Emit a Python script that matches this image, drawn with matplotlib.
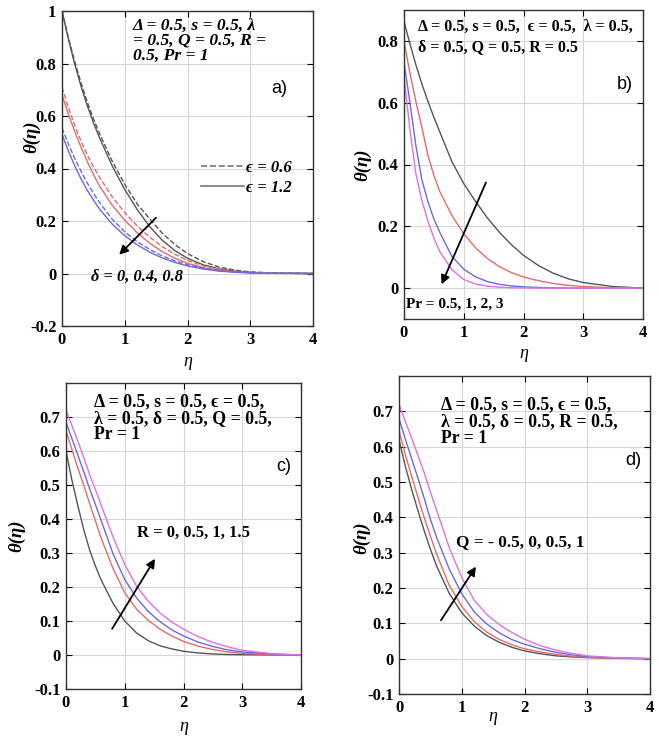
import matplotlib
matplotlib.use('Agg')
import matplotlib.pyplot as plt
from matplotlib.lines import Line2D

plt.rcParams['font.family'] = ['Liberation Serif', 'DejaVu Serif']

# shared eta grid
eta = [0, 0.1, 0.2, 0.3, 0.4, 0.5, 0.6, 0.8, 1.0, 1.2, 1.4, 1.6, 1.8, 2.0,
       2.25, 2.5, 2.75, 3.0, 3.5, 4.0]

# a) delta = 0, 0.4, 0.8 ; dashed eps=0.6, solid eps=1.2
a_k_dash = [1.0, 0.9, 0.81, 0.728, 0.655, 0.59, 0.532, 0.428, 0.34, 0.264, 0.207,
            0.153, 0.11, 0.076, 0.045, 0.025, 0.013, 0.006, 0.001, 0.0]
a_k_sol = [1.0, 0.895, 0.8, 0.716, 0.641, 0.575, 0.516, 0.41, 0.32, 0.243, 0.178,
           0.126, 0.087, 0.058, 0.033, 0.018, 0.009, 0.004, 0.001, 0.0]
a_r_dash = [0.71, 0.634, 0.566, 0.506, 0.453, 0.407, 0.366, 0.292, 0.232, 0.181,
            0.138, 0.102, 0.073, 0.05, 0.029, 0.016, 0.008, 0.004, 0.001, 0.0]
a_r_sol = [0.68, 0.608, 0.543, 0.483, 0.428, 0.378, 0.333, 0.26, 0.203, 0.155,
           0.115, 0.083, 0.058, 0.039, 0.022, 0.012, 0.006, 0.003, 0.001, 0.0]
a_b_dash = [0.555, 0.494, 0.44, 0.391, 0.346, 0.306, 0.27, 0.207, 0.159, 0.121,
            0.091, 0.067, 0.048, 0.034, 0.02, 0.011, 0.006, 0.003, 0.001, 0.0]
a_b_sol = [0.53, 0.468, 0.412, 0.362, 0.318, 0.28, 0.245, 0.188, 0.144, 0.109,
           0.081, 0.059, 0.042, 0.029, 0.017, 0.009, 0.005, 0.002, 0.0005, 0.0]

# b) Pr = 0.5, 1, 2, 3
b_pr05 = [0.863, 0.79, 0.722, 0.66, 0.605, 0.553, 0.505, 0.41, 0.338, 0.28, 0.226,
          0.18, 0.14, 0.106, 0.073, 0.048, 0.03, 0.018, 0.005, 0.0]
b_pr1 = [0.80, 0.695, 0.603, 0.52, 0.43, 0.365, 0.312, 0.236, 0.176, 0.13, 0.095,
         0.069, 0.05, 0.036, 0.024, 0.015, 0.009, 0.005, 0.001, 0.0]
b_pr2 = [0.73, 0.6, 0.46, 0.35, 0.28, 0.224, 0.18, 0.103, 0.061, 0.036, 0.021,
         0.012, 0.007, 0.004, 0.002, 0.001, 0.0, 0.0, 0.0, 0.0]
b_pr3 = [0.685, 0.512, 0.369, 0.283, 0.217, 0.162, 0.118, 0.06, 0.028, 0.013,
         0.006, 0.003, 0.001, 0.0005, 0.0, 0.0, 0.0, 0.0, 0.0, 0.0]

# c) R = 0, 0.5, 1, 1.5
c_r0 = [0.60, 0.515, 0.44, 0.37, 0.31, 0.262, 0.22, 0.152, 0.1, 0.065, 0.042,
        0.027, 0.018, 0.011, 0.006, 0.003, 0.0015, 0.0008, 0.0002, 0.0]
c_r05 = [0.66, 0.605, 0.551, 0.5, 0.447, 0.395, 0.343, 0.255, 0.183, 0.135, 0.102,
         0.076, 0.056, 0.04, 0.026, 0.016, 0.009, 0.005, 0.001, 0.0]
c_r1 = [0.685, 0.637, 0.589, 0.54, 0.49, 0.443, 0.395, 0.298, 0.222, 0.168, 0.128,
        0.098, 0.074, 0.056, 0.038, 0.025, 0.015, 0.009, 0.003, 0.0]
c_r15 = [0.72, 0.675, 0.63, 0.582, 0.532, 0.487, 0.44, 0.348, 0.266, 0.203, 0.158,
         0.124, 0.097, 0.076, 0.054, 0.037, 0.024, 0.014, 0.004, 0.0]

# d) Q = -0.5, 0, 0.5, 1
d_qm05 = [0.62, 0.545, 0.48, 0.42, 0.363, 0.31, 0.262, 0.185, 0.13, 0.092, 0.065,
          0.046, 0.032, 0.022, 0.014, 0.008, 0.005, 0.003, 0.001, 0.0]
d_q0 = [0.645, 0.578, 0.517, 0.458, 0.40, 0.347, 0.296, 0.208, 0.148, 0.105, 0.075,
        0.054, 0.039, 0.028, 0.019, 0.012, 0.007, 0.004, 0.001, 0.0]
d_q05 = [0.68, 0.622, 0.567, 0.512, 0.455, 0.395, 0.343, 0.254, 0.184, 0.132, 0.098,
         0.073, 0.054, 0.041, 0.028, 0.018, 0.011, 0.006, 0.002, 0.0]
d_q1 = [0.72, 0.672, 0.625, 0.576, 0.527, 0.472, 0.42, 0.315, 0.23, 0.165, 0.125,
        0.096, 0.074, 0.055, 0.037, 0.024, 0.015, 0.008, 0.002, 0.0]

col_k = '#555555'
col_r = '#e86a6a'
col_b = '#6a6ae0'
col_m = '#e070e8'

W, H = 661, 742
fig = plt.figure(figsize=(W / 100, H / 100), dpi=100)


def make_ax(l, r, t, b):
    ax = fig.add_axes([l / W, 1 - b / H, (r - l) / W, (b - t) / H])
    ax.grid(True, color='#d6d6d6', lw=0.8)
    ax.set_axisbelow(True)
    ax.tick_params(direction='in', top=True, right=True, length=4, labelsize=12, pad=4)
    for s in ax.spines.values():
        s.set_color('#333333')
        s.set_linewidth(1.0)
    ax.set_xlim(0, 4)
    ax.set_xticks([0, 1, 2, 3, 4])
    return ax


def finish(ax, yt, xl, yl):
    ax.set_yticks(yt)
    ax.set_yticklabels([f'{v:g}' for v in yt], fontweight='bold')
    ax.set_xticklabels(['0', '1', '2', '3', '4'], fontweight='bold')
    ax.set_xlabel('η', fontsize=13, style='italic')
    ax.set_ylabel('θ(η)', fontsize=13.5, style='italic', fontweight='bold')
    ax.xaxis.set_label_coords(*xl)
    ax.yaxis.set_label_coords(*yl)


arrow = dict(arrowstyle='-|>', color='black', lw=1.3, mutation_scale=13)

# ---- a)
ax = make_ax(62, 313, 11, 326)
for yd, ys, c in [(a_k_dash, a_k_sol, col_k), (a_r_dash, a_r_sol, col_r),
                  (a_b_dash, a_b_sol, col_b)]:
    ax.plot(eta, yd, '--', color=c, lw=1.0)
    ax.plot(eta, ys, '-', color=c, lw=1.0)
ax.set_ylim(-0.2, 1)
finish(ax, [-0.2, 0, 0.2, 0.4, 0.6, 0.8, 1], (0.5, -0.085), (-0.085, 0.6))
ax.text(1.13, 0.975, 'Δ = 0.5, s = 0.5, λ\n= 0.5, Q = 0.5, R =\n0.5, Pr = 1',
        va='top', ha='left', style='italic', linespacing=0.92,
        fontsize=12.6, fontweight='bold')
ax.text(3.46, 0.705, 'a)', ha='center', va='center', fontsize=13,
        family='Liberation Sans')
ax.text(0.46, -0.013, 'δ = 0, 0.4, 0.8', va='center', ha='left', style='italic',
        fontsize=11.8, fontweight='bold')
ax.annotate('', xy=(0.88, 0.064), xytext=(1.53, 0.22), arrowprops=arrow)
hs = [Line2D([], [], color='#777777', ls='--', lw=1.2),
      Line2D([], [], color='#777777', ls='-', lw=1.2)]
ax.legend(hs, ['ϵ = 0.6', 'ϵ = 1.2'], loc='center left', frameon=False,
          bbox_to_anchor=(0.494, 0.47), handlelength=2.6, handletextpad=0.1,
          labelspacing=0.2, prop=dict(size=12, weight='bold', style='italic'))

# ---- b)
ax = make_ax(404, 643, 10, 319)
for y, c in [(b_pr05, col_k), (b_pr1, col_r), (b_pr2, col_b), (b_pr3, col_m)]:
    ax.plot(eta, y, color=c, lw=1.0)
ax.set_ylim(-0.1, 0.9)
finish(ax, [0, 0.2, 0.4, 0.6, 0.8], (0.5, -0.085), (-0.135, 0.5))
ax.text(0.24, 0.87, 'Δ = 0.5, s = 0.5,  ϵ = 0.5,  λ = 0.5,\nδ = 0.5, Q = 0.5, R = 0.5',
        va='top', ha='left', linespacing=1.3, fontsize=11.5, fontweight='bold')
ax.text(3.7, 0.66, 'b)', ha='center', va='center', fontsize=13, family='Liberation Sans')
ax.text(0.03, -0.053, 'Pr = 0.5, 1, 2, 3', va='center', ha='left',
        fontsize=11, fontweight='bold')
ax.annotate('', xy=(0.61, 0.004), xytext=(1.39, 0.35), arrowprops=arrow)

# ---- c)
ax = make_ax(66, 301, 383, 689)
for y, c in [(c_r0, col_k), (c_r05, col_r), (c_r1, col_b), (c_r15, col_m)]:
    ax.plot(eta, y, color=c, lw=1.0)
ax.set_ylim(-0.1, 0.8)
finish(ax, [-0.1, 0, 0.1, 0.2, 0.3, 0.4, 0.5, 0.6, 0.7], (0.5, -0.095), (-0.175, 0.5))
ax.text(0.47, 0.77, 'Δ = 0.5, s = 0.5, ϵ = 0.5,\nλ = 0.5, δ = 0.5, Q = 0.5,\nPr = 1',
        va='top', ha='left', linespacing=0.97, fontsize=12.8, fontweight='bold')
ax.text(3.71, 0.553, 'c)', ha='center', va='center', fontsize=13, family='Liberation Sans')
ax.text(1.21, 0.358, 'R = 0, 0.5, 1, 1.5', va='center', ha='left',
        fontsize=12, fontweight='bold')
ax.annotate('', xy=(1.54, 0.29), xytext=(0.76, 0.07), arrowprops=arrow)

# ---- d)
ax = make_ax(399, 650, 376, 694)
for y, c in [(d_qm05, col_k), (d_q0, col_r), (d_q05, col_b), (d_q1, col_m)]:
    ax.plot(eta, y, color=c, lw=1.0)
ax.set_ylim(-0.1, 0.8)
finish(ax, [-0.1, 0, 0.1, 0.2, 0.3, 0.4, 0.5, 0.6, 0.7], (0.375, -0.045), (-0.115, 0.49))
ax.text(0.67, 0.744, 'Δ = 0.5, s = 0.5, ϵ = 0.5,\nλ = 0.5, δ = 0.5, R = 0.5,\nPr = 1',
        va='top', ha='left', linespacing=1.0, fontsize=12.8, fontweight='bold')
ax.text(3.74, 0.56, 'd)', ha='center', va='center', fontsize=13, family='Liberation Sans')
ax.text(0.91, 0.33, 'Q = - 0.5, 0, 0.5, 1', va='center', ha='left',
        fontsize=12.4, fontweight='bold')
ax.annotate('', xy=(1.25, 0.267), xytext=(0.645, 0.102), arrowprops=arrow)

fig.savefig('out.png', dpi=100)
